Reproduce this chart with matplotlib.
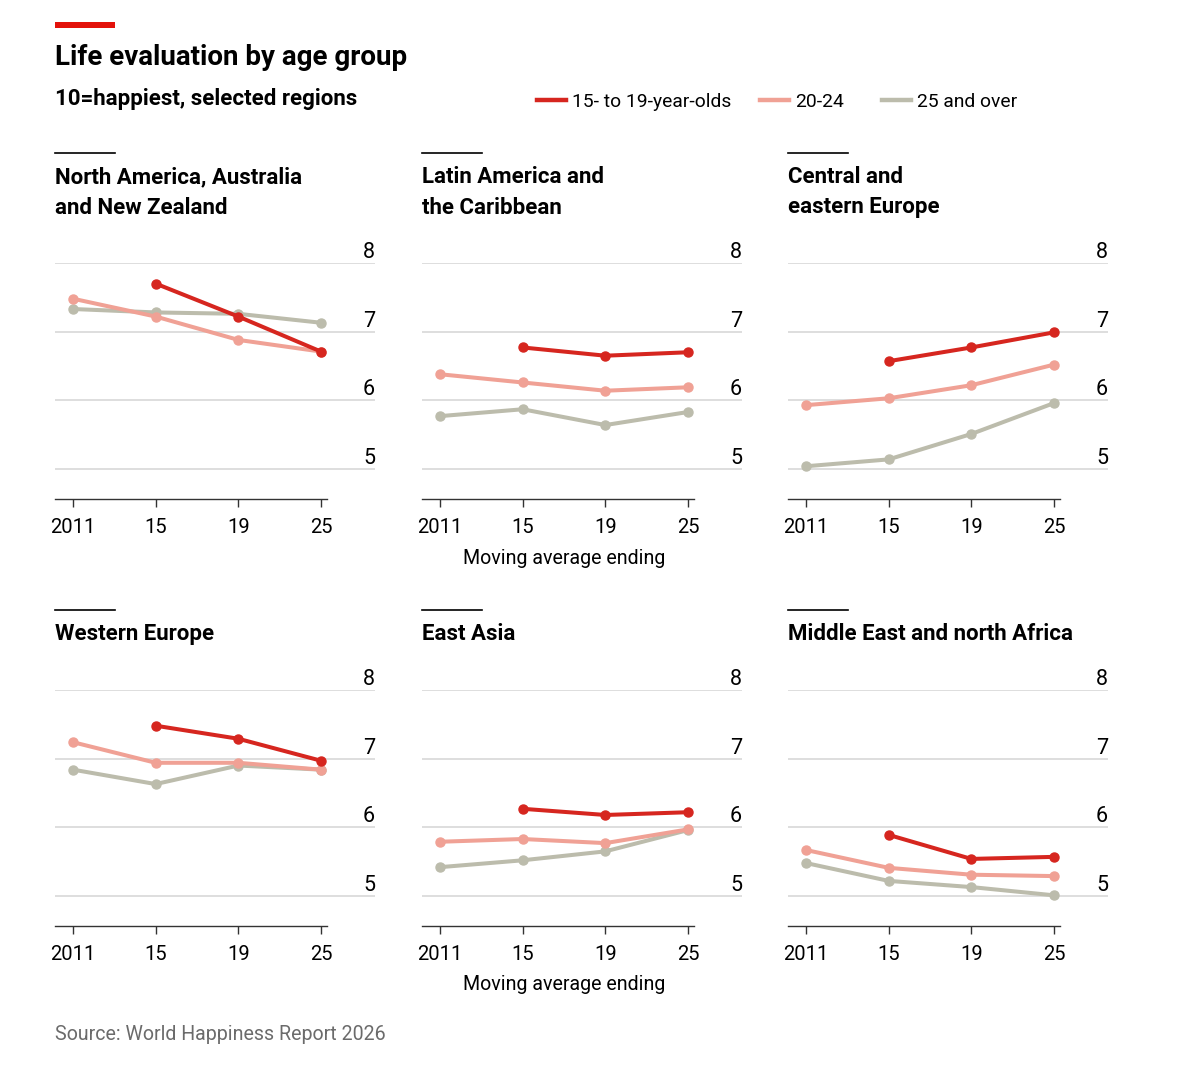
import numpy as np
import matplotlib.pyplot as plt
from matplotlib import font_manager
from matplotlib.lines import Line2D
from matplotlib.patches import Rectangle

installed = {f.name for f in font_manager.fontManager.ttflist}
main_font = 'Liberation Sans Narrow' if 'Liberation Sans Narrow' in installed else 'Roboto'
plt.rcParams['font.family'] = [main_font, 'DejaVu Sans']

# data
periods = ['2011', '15', '19', '25']
regions = ['North America, Australia\nand New Zealand',
           'Latin America and\nthe Caribbean',
           'Central and\neastern Europe',
           'Western Europe',
           'East Asia',
           'Middle East and north Africa']
teens = [[np.nan, 7.70, 7.22, 6.71],
         [np.nan, 6.77, 6.65, 6.70],
         [np.nan, 6.57, 6.77, 6.99],
         [np.nan, 7.48, 7.29, 6.97],
         [np.nan, 6.27, 6.18, 6.22],
         [np.nan, 5.89, 5.54, 5.57]]
young = [[7.48, 7.22, 6.88, 6.71],
         [6.38, 6.26, 6.14, 6.19],
         [5.93, 6.03, 6.22, 6.52],
         [7.24, 6.94, 6.94, 6.84],
         [5.79, 5.83, 5.77, 5.97],
         [5.67, 5.41, 5.31, 5.29]]
older = [[7.33, 7.28, 7.26, 7.13],
         [5.77, 5.87, 5.64, 5.83],
         [5.04, 5.14, 5.51, 5.96],
         [6.84, 6.63, 6.90, 6.84],
         [5.42, 5.52, 5.65, 5.96],
         [5.48, 5.22, 5.13, 5.01]]
yticks = [5, 6, 7, 8]

series_names = ['15- to 19-year-olds', '20-24', '25 and over']
colors = ['#d6261f', '#f0a195', '#bcbcac']

W, H = 1200, 1066
fig = plt.figure(figsize=(W / 100, H / 100), dpi=100)

def fx(px):
    return px / W

def fy(py):
    return 1 - py / H

# header
fig.add_artist(Rectangle((fx(55), fy(28)), fx(115) - fx(55), fy(22) - fy(28),
                         color='#e3120b', lw=0))
fig.text(fx(55), fy(65), 'Life evaluation by age group', fontsize=20,
         fontweight='bold', va='baseline', ha='left')
fig.text(fx(55), fy(105), '10=happiest, selected regions', fontsize=16,
         fontweight='bold', va='baseline', ha='left')

# legend
leg_x = [537, 760, 882]
for name, c, x0 in zip(series_names, colors, leg_x):
    fig.add_artist(Line2D([fx(x0), fx(x0 + 29)], [fy(100), fy(100)], color=c, lw=3.2))
    fig.text(fx(x0 + 35), fy(107), name, fontsize=13.9, va='baseline', ha='left')

col_left = [55, 422, 788]
row_top = [263, 690]
rule_y = [153, 610]
title_top = [166, 623]
ax_w, ax_h = 320, 236
x = np.arange(len(periods))
xlo = -18 / 82.67
xhi = 3 + 54 / 82.67
ylo = 5 - 30 / 68.67

for i, region in enumerate(regions):
    r, c = divmod(i, 3)
    left, top = col_left[c], row_top[r]
    ax = fig.add_axes([fx(left), fy(top + ax_h), ax_w / W, ax_h / H])
    ax.set_xlim(xlo, xhi)
    ax.set_ylim(ylo, 8)
    for v in yticks:
        ax.axhline(v, color='#d4d4d4', lw=1.1, zorder=0)
        ax.annotate(str(v), (1.0, v), xycoords=ax.get_yaxis_transform(),
                    xytext=(0, 3.6), textcoords='offset points',
                    ha='right', va='baseline', fontsize=15.5, annotation_clip=False)
    for vals, col in zip([older[i], young[i], teens[i]], colors[::-1]):
        ax.plot(x, vals, color=col, lw=2.9, marker='o', ms=6.5,
                solid_capstyle='round', clip_on=False)
    for s in ['top', 'right', 'left']:
        ax.spines[s].set_visible(False)
    ax.spines['bottom'].set_bounds(xlo, 3.07)
    ax.spines['bottom'].set_color('#333333')
    ax.spines['bottom'].set_linewidth(1.0)
    ax.set_yticks([])
    ax.set_xticks(x)
    ax.set_xticklabels(periods, fontsize=14.5)
    ax.tick_params(axis='x', length=6, width=1.0, color='#333333', pad=7.5)
    if c == 1:
        ax.text(1.5, -59 / ax_h, 'Moving average ending', transform=ax.get_xaxis_transform(),
                ha='center', va='center', fontsize=14.1)
    # panel title with short rule above
    fig.add_artist(Line2D([fx(left), fx(left + 60)], [fy(rule_y[r]), fy(rule_y[r])],
                          color='black', lw=1.2))
    fig.text(fx(left), fy(title_top[r]), region, fontsize=16, fontweight='bold',
             va='top', ha='left', linespacing=1.5)

fig.text(fx(55), fy(1040), 'Source: World Happiness Report 2026', fontsize=14.1,
         color='#6b6b6b', va='baseline', ha='left')

fig.savefig('out.png', dpi=100, facecolor='white')
